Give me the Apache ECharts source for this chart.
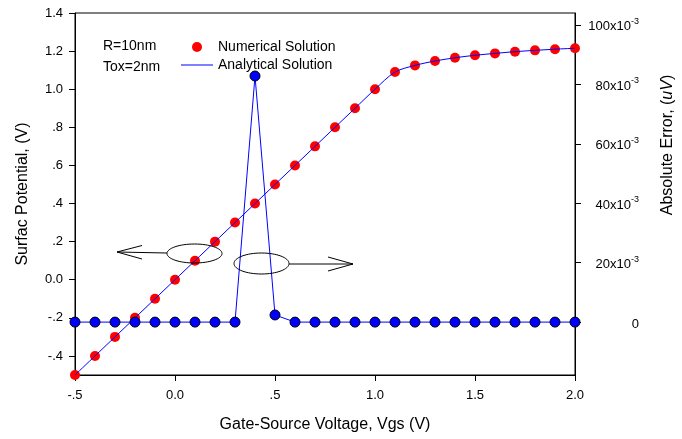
<!DOCTYPE html>
<html>
<head>
<meta charset="utf-8">
<script src="https://cdn.jsdelivr.net/npm/echarts@6/dist/echarts.min.js"></script>
<style>
  html, body { margin: 0; padding: 0; background: #fff; }
  #chart { width: 682px; height: 439px; }
</style>
</head>
<body>
<div id="chart"></div>
<script>
// gate-source voltage (V)
var vgs = [-0.5, -0.4, -0.3, -0.2, -0.1, 0.0, 0.1, 0.2, 0.3, 0.4, 0.5, 0.6, 0.7,
  0.8, 0.9, 1.0, 1.1, 1.2, 1.3, 1.4, 1.5, 1.6, 1.7, 1.8, 1.9, 2.0];
// surface potential (V)
var numerical = [-0.5, -0.4, -0.3, -0.2, -0.1, 0.0, 0.1, 0.2, 0.3, 0.4, 0.5, 0.6, 0.7,
  0.8, 0.9, 1.0, 1.09, 1.125, 1.148, 1.165, 1.178, 1.188, 1.197, 1.204, 1.21, 1.215];
var analytical = [-0.5, -0.4, -0.3, -0.2, -0.1, 0.0, 0.1, 0.2, 0.3, 0.4, 0.5, 0.6, 0.7,
  0.8, 0.9, 1.0, 1.09, 1.125, 1.148, 1.165, 1.178, 1.188, 1.197, 1.204, 1.21, 1.215];
// absolute error (uV)
var absError = [0, 0, 0, 0, 0, 0, 0, 0, 0, 0.0828, 0.0024, 0, 0,
  0, 0, 0, 0, 0, 0, 0, 0, 0, 0, 0, 0, 0];

var xTickValues = [-0.5, 0, 0.5, 1.0, 1.5, 2.0];
var xTickLabels = ['-.5', '0.0', '.5', '1.0', '1.5', '2.0'];
var leftTickValues = [-0.4, -0.2, 0.0, 0.2, 0.4, 0.6, 0.8, 1.0, 1.2, 1.4];
var leftTickLabels = ['-.4', '-.2', '0.0', '.2', '.4', '.6', '.8', '1.0', '1.2', '1.4'];
var rightTickValues = [0, 0.02, 0.04, 0.06, 0.08, 0.1];
var rightTickLabels = ['0', '20', '40', '60', '80', '100'];

function pairs(xs, ys) {
  return xs.map(function (x, i) { return [x, ys[i]]; });
}
function lookup(vals, labels, v) {
  for (var i = 0; i < vals.length; i++) {
    if (Math.abs(vals[i] - v) < 1e-6) return labels[i];
  }
  return '';
}

var font = '"Liberation Sans", Arial, sans-serif';
var chart = echarts.init(document.getElementById('chart'));

chart.setOption({
  animation: false,
  textStyle: { fontFamily: font, color: '#000' },
  grid: {
    left: 75, right: 107, top: 13, bottom: 64,
    show: true, borderColor: '#000', borderWidth: 1, backgroundColor: 'transparent'
  },
  legend: {
    orient: 'vertical',
    left: 181,
    top: 40,
    padding: 0,
    itemWidth: 32,
    itemHeight: 10,
    itemGap: 4,
    textStyle: { fontFamily: font, fontSize: 14, color: '#000' },
    data: [
      { name: 'Numerical Solution', icon: 'circle', itemStyle: { color: '#ff0000', opacity: 1 } },
      { name: 'Analytical Solution', icon: 'path://M0,0 L32,0 L32,1 L0,1 Z', itemStyle: { color: '#0000ff' } }
    ]
  },
  xAxis: {
    type: 'value',
    min: -0.5,
    max: 2.0,
    interval: 0.5,
    name: 'Gate-Source Voltage, Vgs (V)',
    nameLocation: 'middle',
    nameGap: 42,
    nameTextStyle: { fontFamily: font, fontSize: 16, color: '#000' },
    axisLine: { onZero: false, lineStyle: { color: '#000', width: 1 } },
    axisTick: { inside: false, length: 6, lineStyle: { color: '#000' } },
    axisLabel: {
      margin: 14, fontSize: 13, color: '#000', fontFamily: font,
      formatter: function (v) { return lookup(xTickValues, xTickLabels, v); }
    },
    splitLine: { show: false }
  },
  yAxis: [
    {
      type: 'value',
      min: -0.5,
      max: 1.4,
      name: 'Surfac Potential, (V)',
      nameLocation: 'middle',
      nameGap: 44,
      nameRotate: 90,
      nameTextStyle: { fontFamily: font, fontSize: 16, color: '#000' },
      axisLine: { show: true, onZero: false, lineStyle: { color: '#000', width: 1 } },
      axisTick: { show: true, length: 6, customValues: leftTickValues, lineStyle: { color: '#000' } },
      axisLabel: {
        margin: 12, fontSize: 13, color: '#000', fontFamily: font,
        customValues: leftTickValues,
        formatter: function (v) { return lookup(leftTickValues, leftTickLabels, v); }
      },
      splitLine: { show: false }
    },
    {
      type: 'value',
      position: 'right',
      min: -0.0178,
      max: 0.104,
      axisLine: { show: true, onZero: false, lineStyle: { color: '#000', width: 1 } },
      axisTick: { show: true, length: 6, customValues: rightTickValues, lineStyle: { color: '#000' } },
      axisLabel: {
        margin: 64, align: 'right', fontSize: 13, color: '#000', fontFamily: font,
        customValues: rightTickValues,
        formatter: function (v) {
          var s = lookup(rightTickValues, rightTickLabels, v);
          if (s === '0') return '{b|0}';
          return '{b|' + s + 'x10}{s|-3}';
        },
        rich: {
          b: { fontSize: 13, fontFamily: font, color: '#000', padding: [4, 0, 0, 0] },
          s: { fontSize: 9, fontFamily: font, color: '#000', padding: [0, 0, 7, 0] }
        }
      },
      splitLine: { show: false }
    }
  ],
  graphic: [
    { type: 'text', left: 103, top: 39, style: { text: 'R=10nm', font: '14px ' + font, fill: '#000' } },
    { type: 'text', left: 103, top: 60, style: { text: 'Tox=2nm', font: '14px ' + font, fill: '#000' } },
    {
      type: 'text', x: 668, y: 145, rotation: Math.PI / 2,
      style: {
        text: 'Absolute Error, ({i|uV})', font: '16px ' + font, fill: '#000',
        align: 'center', verticalAlign: 'middle',
        rich: { i: { fontStyle: 'italic', fontSize: 16, fontFamily: font } }
      }
    },
    { type: 'ellipse', shape: { cx: 194.5, cy: 253.5, rx: 27.5, ry: 9.5 }, style: { fill: 'none', stroke: '#000', lineWidth: 1 }, z: 10 },
    { type: 'line', shape: { x1: 167, y1: 253, x2: 117, y2: 252 }, style: { stroke: '#000', lineWidth: 1 }, z: 10 },
    { type: 'polyline', shape: { points: [[142, 245.5], [117, 252], [142, 259]] }, style: { stroke: '#000', fill: 'none', lineWidth: 1 }, z: 10 },
    { type: 'ellipse', shape: { cx: 261.5, cy: 263.5, rx: 27.5, ry: 10.5 }, style: { fill: 'none', stroke: '#000', lineWidth: 1 }, z: 10 },
    { type: 'line', shape: { x1: 289, y1: 264, x2: 353, y2: 264 }, style: { stroke: '#000', lineWidth: 1 }, z: 10 },
    { type: 'polyline', shape: { points: [[328, 257], [353, 264], [328, 271]] }, style: { stroke: '#000', fill: 'none', lineWidth: 1 }, z: 10 }
  ],
  series: [
    {
      name: 'Numerical Solution',
      type: 'scatter',
      yAxisIndex: 0,
      symbol: 'circle',
      symbolSize: 10,
      itemStyle: { color: '#ff0000', opacity: 1 },
      data: pairs(vgs, numerical),
      z: 2
    },
    {
      name: 'Analytical Solution',
      type: 'line',
      yAxisIndex: 0,
      symbol: 'none',
      smooth: 0.3,
      lineStyle: { color: '#0000ff', width: 1 },
      itemStyle: { color: '#0000ff' },
      data: pairs(vgs, analytical),
      z: 3
    },
    {
      name: 'Absolute Error',
      type: 'line',
      yAxisIndex: 1,
      symbol: 'circle',
      symbolSize: 10,
      showSymbol: true,
      lineStyle: { color: '#0000ff', width: 1 },
      itemStyle: { color: '#0000ff', borderColor: '#000', borderWidth: 1 },
      data: pairs(vgs, absError),
      z: 4
    }
  ]
});
</script>
</body>
</html>
